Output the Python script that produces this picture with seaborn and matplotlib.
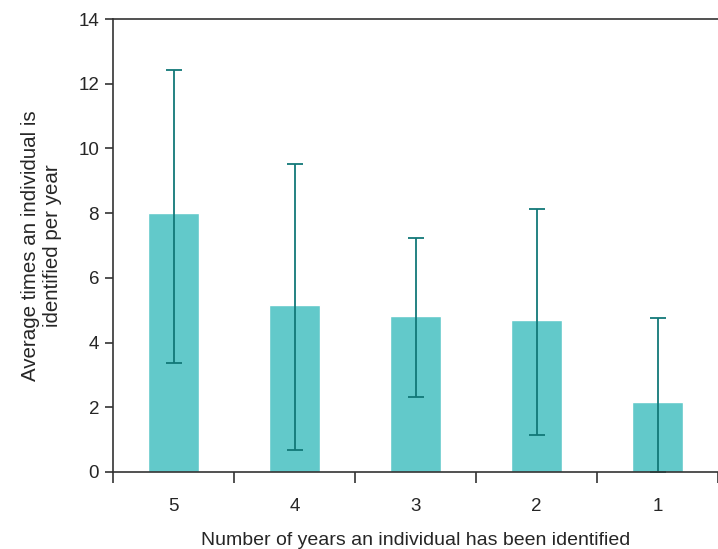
import matplotlib
matplotlib.use("Agg")
import matplotlib.pyplot as plt
import seaborn as sns
import numpy as np
import pandas as pd

categories = ["5", "4", "3", "2", "1"]
means = [8.0, 5.15, 4.81, 4.69, 2.16]
upper = [12.42, 9.53, 7.22, 8.13, 4.75]
lower = [3.36, 0.68, 2.33, 1.14, 0.0]

sns.set_style("ticks")
plt.rcParams['font.family'] = ['Liberation Sans', 'DejaVu Sans']

fig = plt.figure(figsize=(7.18, 5.49), dpi=100)
ax = fig.add_axes([113/718, 1-472/549, 1-113/718, (472-19)/549])

df = pd.DataFrame({"cat": categories, "mean": means})
sns.barplot(data=df, x="cat", y="mean", order=categories, color="#62C9CA",
            saturation=1, width=0.42, ax=ax, errorbar=None)

m = np.array(means)
yerr = np.vstack([m - np.array(lower), np.array(upper) - m])
ax.errorbar(np.arange(len(categories)), m, yerr=yerr, fmt="none",
            ecolor="#127878", elinewidth=1.3, capsize=6, capthick=1.3)

ax.set_xlim(-0.5, len(categories) - 0.5)
ax.set_ylim(0, 14)
ax.set_yticks([0, 2, 4, 6, 8, 10, 12, 14])
ax.set_xticks(np.arange(len(categories)))
ax.set_xticklabels(categories)
ax.set_xticks(np.arange(len(categories) + 1) - 0.5, minor=True)
ax.tick_params(axis="x", which="major", length=0, pad=19, labelsize=13.5)
ax.tick_params(axis="x", which="minor", length=8, width=1.2, color="#333333")
ax.tick_params(axis="y", length=6, width=1.2, color="#333333", labelsize=13.5, pad=4)

for s in ["left", "bottom", "top"]:
    ax.spines[s].set_visible(True)
    ax.spines[s].set_color("#333333")
    ax.spines[s].set_linewidth(1.2)
ax.spines["right"].set_visible(False)

ax.set_xlabel("Number of years an individual has been identified", fontsize=14, labelpad=12)
ax.set_ylabel("Average times an individual is\nidentified per year", fontsize=14.8,
              labelpad=12, linespacing=1.2)

fig.savefig("out.png", dpi=100)
